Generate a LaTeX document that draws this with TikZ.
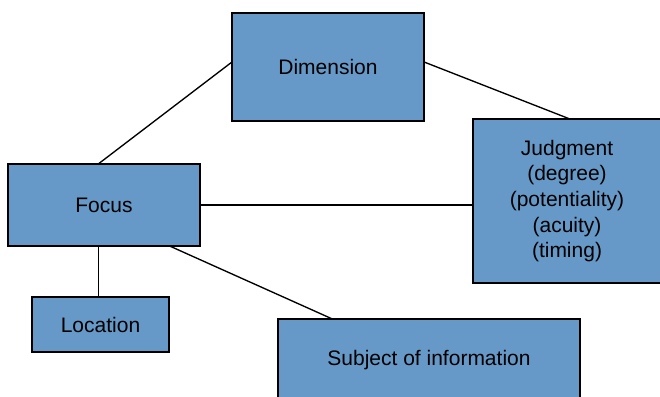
\documentclass[tikz,border=0pt]{standalone}
\usepackage{fontspec}
\setmainfont{Liberation Sans}
\usetikzlibrary{positioning}
\usetikzlibrary{calc}
\definecolor{boxblue}{RGB}{102,153,199}

\begin{document}
\begin{tikzpicture}[x=1pt,y=-1pt,line width=1.35pt]
			\tikzset{vertex/.style = {shape=rectangle, draw, fill=boxblue, outer sep=0pt, inner sep=0pt, align=center, font=\fontsize{21}{25.6}\selectfont}}
			\useasboundingbox (0,0) rectangle (660,396);
			\node[vertex, minimum width=192pt, minimum height=108pt] (DIM) at (328,67) {Dimension};
			\node[vertex, minimum width=188pt, minimum height=164pt] (JUDG) at (567,201)
			{ Judgment \\
				(degree) \\
				(potentiality) \\
				(acuity) \\
				(timing)
			};
			\node[vertex, minimum width=192pt, minimum height=82pt] (FOCUS) at (104,205) {Focus};
			\node[vertex, minimum width=137pt, minimum height=55pt] (LOC) at (100.5,324.5) {Location};
			\node[vertex, minimum width=302pt, minimum height=82pt] (SUBJ) at (429,360) {Subject of information};
			
			\draw (FOCUS.98) -- (DIM.177);
			\draw (DIM.3) -- (JUDG.88);
			\draw (FOCUS.east) -- (FOCUS.east -| JUDG.west);
			\draw (FOCUS.262) -- (FOCUS.262 |- LOC.north);
			\draw (FOCUS.328) -- (SUBJ.157);
			
			\end{tikzpicture}
\end{document}
